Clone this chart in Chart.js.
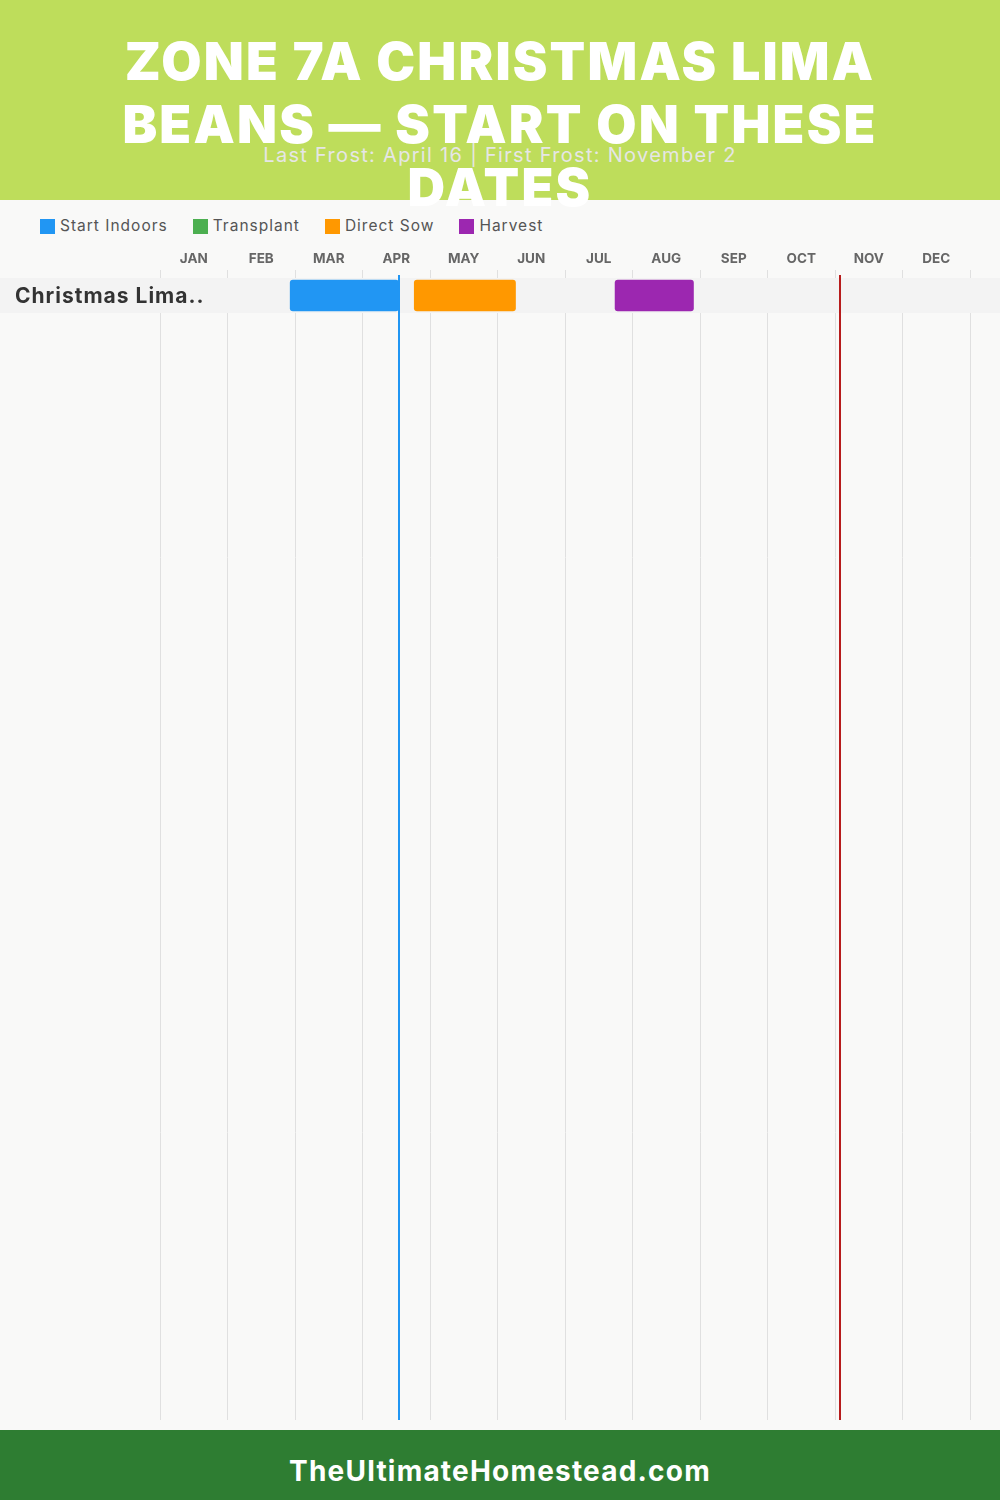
<!DOCTYPE html>
<html>
<head>
<meta charset="utf-8">
<script src="https://cdn.jsdelivr.net/npm/chart.js@4.4.0/dist/chart.umd.min.js"></script>
<style>
  html, body { margin: 0; padding: 0; }
  body {
    width: 1000px; height: 1500px; position: relative; overflow: hidden;
    background: #f9f9f8; font-family: Inter, "Open Sans", sans-serif;
  }
  .header {
    position: absolute; left: 0; top: 0; width: 1000px; height: 200px;
    background: #bedd5b;
  }
  .title {
    position: absolute; left: 0; top: 30px; width: 1000px; z-index: 3;
    text-align: center; color: #fff; font-weight: 900; font-size: 52px;
    line-height: 63px; letter-spacing: 2.2px;
  }
  .subtitle {
    position: absolute; left: 0; top: 141px; width: 1000px; z-index: 2;
    text-align: center; color: #e6e6e6; font-size: 20px; line-height: 28px;
    letter-spacing: 1.3px;
  }
  .legend {
    position: absolute; left: 40px; top: 216px; display: flex; gap: 25px;
    font-size: 15.5px; color: #555; line-height: 20px; letter-spacing: 1px;
  }
  .legend span.item { display: flex; align-items: center; }
  .legend i { display: inline-block; width: 15px; height: 15px; margin-right: 5px; }
  .chart-box { position: absolute; left: 0; top: 240px; width: 1000px; height: 1180px; }
  .footer {
    position: absolute; left: 0; top: 1430px; width: 1000px; height: 70px; overflow: hidden;
    background: #2e7d32; color: #fff; font-weight: 700; font-size: 28px;
    line-height: 82px; text-align: center; letter-spacing: 1.2px;
  }
</style>
</head>
<body>
<div class="header"></div>
<div class="title">ZONE 7A CHRISTMAS LIMA<br>BEANS — START ON THESE<br>DATES</div>
<div class="subtitle">Last Frost: April 16 | First Frost: November 2</div>
<div class="legend" id="legend"></div>
<div class="chart-box"><canvas id="chart"></canvas></div>
<div class="footer">TheUltimateHomestead.com</div>

<script>
/* ================================
   Data
================================ */
const months = ['JAN', 'FEB', 'MAR', 'APR', 'MAY', 'JUN', 'JUL', 'AUG', 'SEP', 'OCT', 'NOV', 'DEC'];
const crops = ['Christmas Lima..'];
const stages = ['Start Indoors', 'Transplant', 'Direct Sow', 'Harvest'];
const stageColors = ['#2196F3', '#4CAF50', '#FF9800', '#9C27B0'];
// [start, end] per stage for the one crop, as 'MM-DD'
const startIndoors = [['02-26', '04-16']];
const transplant = [];
const directSow = [['04-23', '06-08']];
const harvest = [['07-23', '08-28']];
const lastFrost = '04-16';
const firstFrost = '11-02';

/* ================================
   Helpers
================================ */
const daysIn = [31, 28, 31, 30, 31, 30, 31, 31, 30, 31, 30, 31];

function toMonths(md) {
  const [m, d] = md.split('-').map(Number);
  return (m - 1) + d / daysIn[m - 1];
}

const rowHeight = 35;

/* ================================
   Legend
================================ */
const legend = document.getElementById('legend');
stages.forEach((name, i) => {
  const item = document.createElement('span');
  item.className = 'item';
  item.innerHTML = `<i style="background:${stageColors[i]}"></i>${name}`;
  legend.appendChild(item);
});

/* ================================
   Plugins: row band, labels, frost lines
================================ */
const rowBand = {
  id: 'rowBand',
  // band drawn over the grid lines, then the crop name on top
  beforeDatasetsDraw(chart) {
    const { ctx, scales: { y } } = chart;
    ctx.save();
    ctx.fillStyle = '#f3f3f3';
    crops.forEach((c, i) => {
      const cy = y.getPixelForValue(i);
      ctx.fillRect(0, cy - rowHeight / 2, chart.width, rowHeight);
    });
    ctx.fillStyle = '#333';
    ctx.font = 'bold 21px Inter';
    ctx.letterSpacing = '1px';
    ctx.textAlign = 'left';
    ctx.textBaseline = 'middle';
    crops.forEach((c, i) => {
      ctx.fillText(c, 15, y.getPixelForValue(i) + 1);
    });
    ctx.restore();
  }
};

const frostLines = {
  id: 'frostLines',
  afterDatasetsDraw(chart) {
    const { ctx, chartArea, scales: { x } } = chart;
    [[lastFrost, '#2196F3'], [firstFrost, '#b71c1c']].forEach(([d, col]) => {
      const px = Math.round(x.getPixelForValue(toMonths(d)));
      ctx.save();
      ctx.strokeStyle = col;
      ctx.lineWidth = 2;
      ctx.beginPath();
      ctx.moveTo(px, chartArea.top + 5);
      ctx.lineTo(px, chartArea.bottom);
      ctx.stroke();
      ctx.restore();
    });
  }
};

/* ================================
   Chart
================================ */
const stageData = [startIndoors, transplant, directSow, harvest];

const datasets = stages.map((name, i) => ({
  label: name,
  data: stageData[i].map(([s, e]) => ({ x: [toMonths(s), toMonths(e)], y: 0 })),
  backgroundColor: stageColors[i],
  borderRadius: 3,
  borderSkipped: false,
  barThickness: 31,
  grouped: false
}));

const plotHeight = 1150;
const yMin = -25.5 / rowHeight;

new Chart(document.getElementById('chart'), {
  type: 'bar',
  data: { datasets },
  options: {
    indexAxis: 'y',
    responsive: true,
    maintainAspectRatio: false,
    animation: false,
    layout: { padding: 0 },
    plugins: {
      legend: { display: false },
      tooltip: { enabled: false }
    },
    scales: {
      x: {
        type: 'linear',
        position: 'top',
        offset: false,
        min: 0,
        max: 840 / 67.5,
        afterBuildTicks: s => { s.ticks = months.map((m, i) => ({ value: i })).concat([{ value: 12 }]); },
        afterFit: s => { s.height = 30; s.paddingLeft = 0; s.paddingRight = 0; },
        grid: { color: '#e0e0e0', lineWidth: 1, drawTicks: false },
        border: { display: false },
        ticks: {
          autoSkip: false,
          maxRotation: 0,
          labelOffset: 33.75,
          padding: 3,
          color: '#666',
          font: { family: 'Inter', size: 13.5, weight: 'bold' },
          callback: v => months[v] || ''
        }
      },
      y: {
        type: 'linear',
        reverse: true,
        offset: false,
        min: yMin,
        max: yMin + plotHeight / rowHeight,
        afterFit: s => { s.width = 160; s.paddingTop = 0; s.paddingBottom = 0; },
        grid: { display: false },
        border: { display: false },
        ticks: { display: false }
      }
    }
  },
  plugins: [rowBand, frostLines]
});
</script>
</body>
</html>
